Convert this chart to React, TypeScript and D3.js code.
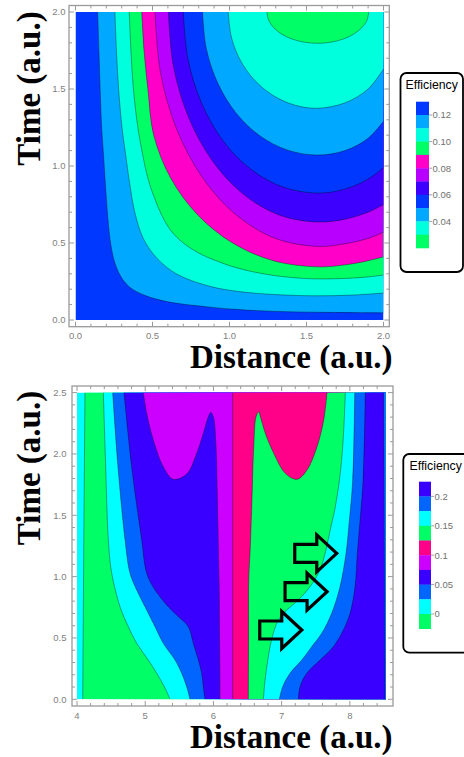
import React from "react";
import * as d3 from "d3";

type Pt = [number, number];

// ---------------- TOP CHART DATA ----------------
const topXTicks = [0, 0.5, 1, 1.5, 2];
const topYTicks = [0, 0.5, 1, 1.5, 2];
const topTickLabels = ["0.0", "0.5", "1.0", "1.5", "2.0"];
// band colours from the bottom-left region outward (0.12-0.13 ... 0.02-0.03)
const topBandColors = ["#0038FF", "#00A8FF", "#00FFDD", "#00FF66", "#FF00C8", "#B800FF", "#3D00FF", "#0038FF", "#00A8FF", "#00FFDD", "#00FF66"];
const topLegendLevels = [0.13, 0.12, 0.11, 0.1, 0.09, 0.08, 0.07, 0.06, 0.05, 0.04, 0.03, 0.02];
const topLegendTickValues = [0.12, 0.1, 0.08, 0.06, 0.04];
const topLegendTickLabels = ["0.12", "0.10", "0.08", "0.06", "0.04"];

// contour boundaries (Distance, Time)
const topC012: Pt[] = [[0.144, 2], [0.152, 1.75], [0.16, 1.5], [0.17, 1.25], [0.18, 1.1], [0.193, 0.9], [0.207, 0.7], [0.225, 0.52], [0.25, 0.39], [0.29, 0.29], [0.35, 0.215], [0.45, 0.16], [0.6, 0.118], [0.86, 0.085], [1.04, 0.069], [1.3, 0.056], [1.6, 0.05], [2, 0.046]];
const topC011: Pt[] = [[0.256, 2], [0.266, 1.75], [0.28, 1.5], [0.302, 1.25], [0.322, 1.1], [0.35, 0.9], [0.385, 0.7], [0.44, 0.53], [0.53, 0.4], [0.66, 0.297], [0.86, 0.222], [1.05, 0.186], [1.3, 0.165], [1.571, 0.157], [1.8, 0.162], [2, 0.175]];
const topC010: Pt[] = [[0.349, 2], [0.36, 1.75], [0.376, 1.5], [0.405, 1.25], [0.435, 1.08], [0.47, 0.92], [0.51, 0.8], [0.56, 0.68], [0.62, 0.58], [0.7, 0.5], [0.8, 0.435], [0.9, 0.39], [1.05, 0.338], [1.25, 0.295], [1.45, 0.272], [1.571, 0.267], [1.75, 0.27], [1.9, 0.28], [2, 0.292]];
const topC009: Pt[] = [[0.43, 2], [0.445, 1.75], [0.47, 1.5], [0.5075, 1.201], [0.6175, 0.9225], [0.7925, 0.6833], [1.0205, 0.4997], [1.286, 0.3843], [1.571, 0.345], [1.75, 0.358], [1.9, 0.385], [2, 0.41]];
const topC008: Pt[] = [[0.516, 2], [0.552, 1.606], [0.657, 1.239], [0.825, 0.924], [1.044, 0.682], [1.298, 0.53], [1.571, 0.478], [1.75, 0.495], [1.9, 0.53], [2, 0.57]];
const topC007: Pt[] = [[0.603, 2], [0.636, 1.647], [0.733, 1.318], [0.887, 1.036], [1.087, 0.819], [1.3205, 0.6825], [1.571, 0.636], [1.75, 0.655], [1.9, 0.7], [2, 0.75]];
const topC006: Pt[] = [[0.7, 2], [0.73, 1.696], [0.817, 1.412], [0.955, 1.168], [1.1355, 0.982], [1.346, 0.864], [1.571, 0.824], [1.75, 0.85], [1.9, 0.915], [2, 0.99]];
const topC005: Pt[] = [[0.825, 2], [0.85, 1.76], [0.925, 1.5355], [1.0435, 1.343], [1.198, 1.1955], [1.378, 1.103], [1.571, 1.071], [1.75, 1.1], [1.9, 1.18], [2, 1.29]];
const topC004: Pt[] = [[0.992, 2], [1.012, 1.838], [1.07, 1.6875], [1.162, 1.558], [1.2815, 1.459], [1.421, 1.396], [1.571, 1.375], [1.75, 1.41], [1.9, 1.5], [2, 1.63]];
const topC003: Pt[] = [[1.243, 2], [1.254, 1.9475], [1.287, 1.8985], [1.339, 1.8565], [1.407, 1.824], [1.486, 1.804], [1.571, 1.797], [1.657, 1.804], [1.7375, 1.824], [1.806, 1.8565], [1.859, 1.8985], [1.893, 1.9475], [1.904, 2]];
const topContours = [topC012, topC011, topC010, topC009, topC008, topC007, topC006, topC005, topC004, topC003];

// ---------------- BOTTOM CHART DATA ----------------
const botXTicks = [4, 5, 6, 7, 8];
const botXTickLabels = ["4", "5", "6", "7", "8"];
const botYTicks = [0, 0.5, 1, 1.5, 2, 2.5];
const botYTickLabels = ["0.0", "0.5", "1.0", "1.5", "2.0", "2.5"];
// band colours from left to right
const botBandColors = ["#00FFFF", "#00FF66", "#00FFFF", "#0066FF", "#3A00FF", "#CC00FF", "#FF0088", "#00FF66", "#00FFFF", "#0066FF", "#3A00FF", "#0080FF"];
const botLegendLevels = [0.225, 0.2, 0.175, 0.15, 0.125, 0.1, 0.075, 0.05, 0.025, 0, -0.025];
const botLegendColors = ["#3A00FF", "#0066FF", "#00FFFF", "#00FF66", "#FF0088", "#CC00FF", "#3A00FF", "#0066FF", "#00FFFF", "#00FF66"];
const botLegendTickValues = [0.2, 0.15, 0.1, 0.05, 0];
const botLegendTickLabels = ["0.2", "0.15", "0.1", "0.05", "0"];

// boundaries from top edge (Time 2.5) to bottom edge (Time 0)
const botL1: Pt[] = [[4.117, 2.5], [4.1, 1.3], [4.084, 0]];
const botL2: Pt[] = [[4.386, 2.5], [4.42, 1.9], [4.459, 1.3], [4.508, 1.03], [4.63, 0.755], [4.752, 0.592], [4.875, 0.456], [5.045, 0.32], [5.168, 0.212], [5.28, 0.103], [5.364, 0]];
const botL3: Pt[] = [[4.523, 2.5], [4.6, 1.9], [4.704, 1.3], [4.777, 1.027], [4.875, 0.891], [4.997, 0.755], [5.144, 0.592], [5.265, 0.456], [5.437, 0.32], [5.535, 0.212], [5.608, 0.103], [5.657, 0]];
const botL4: Pt[] = [[4.689, 2.5], [4.8, 1.9], [4.948, 1.3], [5.022, 1.027], [5.144, 0.891], [5.339, 0.755], [5.485, 0.674], [5.632, 0.592], [5.705, 0.456], [5.779, 0.32], [5.828, 0.212], [5.852, 0.103], [5.877, 0]];
const botL5: Pt[] = [[4.972, 2.5], [5.022, 2.331], [5.119, 2.113], [5.265, 1.896], [5.412, 1.793], [5.608, 1.836], [5.755, 2.005], [5.852, 2.168], [5.925, 2.303], [5.96, 2.339], [5.999, 2.303], [6.038, 2.059], [6.057, 1.651], [6.072, 1.244], [6.082, 0.972], [6.09, 0.5], [6.097, 0]];
const botMid: Pt[] = [[6.283, 2.5], [6.283, 0]];
const botR5: Pt[] = [[7.666, 2.5], [7.617, 2.276], [7.519, 2.059], [7.372, 1.869], [7.226, 1.793], [7.054, 1.842], [6.884, 2.005], [6.761, 2.168], [6.688, 2.303], [6.664, 2.344], [6.625, 2.303], [6.591, 2.059], [6.566, 1.651], [6.541, 1.244], [6.518, 0.972], [6.515, 0.5], [6.512, 0]];
const botR4: Pt[] = [[7.934, 2.5], [7.9, 2.1], [7.85, 1.8], [7.78, 1.55], [7.72, 1.4], [7.67, 1.27], [7.612, 1.135], [7.538, 1.027], [7.416, 0.918], [7.245, 0.809], [7.075, 0.728], [6.952, 0.646], [6.878, 0.538], [6.83, 0.429], [6.79, 0.293], [6.757, 0.157], [6.732, 0]];
const botR3: Pt[] = [[8.072, 2.5], [8.042, 1.787], [7.993, 1.461], [7.944, 1.19], [7.856, 0.918], [7.734, 0.701], [7.588, 0.538], [7.441, 0.429], [7.295, 0.32], [7.123, 0.212], [7.016, 0.103], [6.966, 0]];
const botR2: Pt[] = [[8.227, 2.5], [8.194, 1.787], [8.15, 1.461], [8.11, 1.19], [8.076, 0.918], [8.003, 0.701], [7.905, 0.565], [7.758, 0.429], [7.563, 0.32], [7.368, 0.212], [7.27, 0.103], [7.245, 0]];
const botR1: Pt[] = [[8.497, 2.5], [8.506, 1.25], [8.516, 0]];
const botContours = [botL1, botL2, botL3, botL4, botL5, botMid, botR5, botR4, botR3, botR2, botR1];

// arrow annotations (tip positions, Distance/Time)
const arrowTips: Pt[] = [[7.808, 1.19], [7.666, 0.877], [7.295, 0.565]];

const serif = "'Liberation Serif', 'Times New Roman', serif";
const sans = "'Liberation Sans', Arial, sans-serif";

function Frame({ x, y, w, h, xTicks, yTicks, xs, ys, majorX, majorY }: any) {
  const lines: any[] = [];
  xTicks.forEach((v: number, i: number) => {
    const L = majorX(v) ? 5 : 3;
    const px = xs(v);
    lines.push(<line key={"xb" + i} x1={px} x2={px} y1={y + h} y2={y + h - L} />);
    lines.push(<line key={"xt" + i} x1={px} x2={px} y1={y} y2={y + L} />);
  });
  yTicks.forEach((v: number, i: number) => {
    const L = majorY(v) ? 5 : 3;
    const py = ys(v);
    lines.push(<line key={"yl" + i} x1={x} x2={x + L} y1={py} y2={py} />);
    lines.push(<line key={"yr" + i} x1={x + w} x2={x + w - L} y1={py} y2={py} />);
  });
  return (
    <g stroke="#9a9a9a" strokeWidth={1}>
      <rect x={x} y={y} width={w} height={h} fill="none" strokeWidth={1.3} />
      {lines}
    </g>
  );
}

export default function App() {
  // top scales
  const xT = d3.scaleLinear().domain([0, 2]).range([75.5, 383.5]);
  const yT = d3.scaleLinear().domain([0, 2]).range([320, 12]);
  // bottom scales
  const xB = d3.scaleLinear().domain([4, 8.53]).range([77, 386]);
  const yB = d3.scaleLinear().domain([0, 2.5]).range([699.3, 392.6]);

  const lineT = d3.line<Pt>().x(d => xT(d[0])).y(d => yT(d[1])).curve(d3.curveCatmullRom.alpha(0.5));
  const lineB = d3.line<Pt>().x(d => xB(d[0])).y(d => yB(d[1])).curve(d3.curveCatmullRom.alpha(0.5));

  const legT = d3.scaleLinear().domain([0.13, 0.02]).range([101.7, 248]);
  const legB = d3.scaleLinear().domain([0.225, -0.025]).range([481.7, 628.7]);

  const topMinor = d3.range(0, 2.0001, 0.1);
  const botXMinor = d3.range(4, 8.53, 0.2);
  const botYMinor = d3.range(0, 2.5001, 0.1);
  const isMult = (v: number, m: number, o = 0) => Math.abs(((v - o) / m) - Math.round((v - o) / m)) < 1e-6;

  return (
    <svg width={464} height={757} style={{ position: "absolute", left: 0, top: 0, background: "#fff" }}>
      <defs>
        <clipPath id="clipTop"><rect x={xT(0)} y={yT(2)} width={xT(2) - xT(0)} height={yT(0) - yT(2)} /></clipPath>
        <clipPath id="clipBot"><rect x={xB(4)} y={yB(2.5)} width={xB(8.53) - xB(4)} height={yB(0) - yB(2.5)} /></clipPath>
      </defs>
      <rect x={0} y={0} width={464} height={757} fill="#fff" />

      {/* ---------- TOP CHART ---------- */}
      <g clipPath="url(#clipTop)">
        <rect x={xT(0)} y={yT(2)} width={xT(2) - xT(0)} height={yT(0) - yT(2)} fill={topBandColors[0]} />
        {topContours.map((c, i) => (
          <path key={"tf" + i} d={(lineT(c) as string) + `L${xT(2) + 2},${yT(2) - 2}Z`} fill={topBandColors[i + 1]} />
        ))}
        {topContours.map((c, i) => (
          <path key={"tl" + i} d={lineT(c) as string} fill="none" stroke="#000" strokeOpacity={0.45} strokeWidth={0.8} />
        ))}
      </g>
      <Frame x={69} y={5.5} w={320.3} h={321.2} xTicks={topMinor} yTicks={topMinor} xs={xT} ys={yT}
        majorX={(v: number) => isMult(v, 0.5)} majorY={(v: number) => isMult(v, 0.5)} />
      <g fontFamily={sans} fontSize={9.5} fill="#808080">
        {topXTicks.map((v, i) => (
          <text key={"txl" + i} x={xT(v)} y={338.5} textAnchor="middle">{topTickLabels[i]}</text>
        ))}
        {topYTicks.map((v, i) => (
          <text key={"tyl" + i} x={65.5} y={yT(v) + 3.3} textAnchor="end">{topTickLabels[i]}</text>
        ))}
      </g>
      <text x={392.5} y={368} textAnchor="end" fontFamily={serif} fontWeight="bold" fontSize={33}>Distance (a.u.)</text>
      <text transform={`translate(40,88.5) rotate(-90)`} textAnchor="middle" fontFamily={serif} fontWeight="bold" fontSize={33}>Time (a.u.)</text>

      {/* top legend */}
      <rect x={400.5} y={73} width={62.5} height={199} rx={6} fill="#fff" stroke="#000" strokeWidth={1.8} />
      <text x={405.5} y={89} fontFamily={sans} fontSize={12.3} fill="#000">Efficiency</text>
      {topBandColors.map((col, i) => (
        <rect key={"tlc" + i} x={416} y={legT(topLegendLevels[i])} width={13}
          height={legT(topLegendLevels[i + 1]) - legT(topLegendLevels[i]) + 0.3} fill={col} />
      ))}
      {topLegendTickValues.map((v, i) => (
        <g key={"tlt" + i}>
          <line x1={429} x2={432} y1={legT(v)} y2={legT(v)} stroke="#888" strokeWidth={0.8} />
          <text x={432.5} y={legT(v) + 3.3} fontFamily={sans} fontSize={9.5} fill="#707070">{topLegendTickLabels[i]}</text>
        </g>
      ))}

      {/* ---------- BOTTOM CHART ---------- */}
      <g clipPath="url(#clipBot)">
        <rect x={xB(4)} y={yB(2.5)} width={xB(8.53) - xB(4)} height={yB(0) - yB(2.5)} fill={botBandColors[0]} />
        {botContours.map((c, i) => (
          <path key={"bf" + i} d={(lineB(c) as string) + `L${xB(8.53) + 2},${yB(0) + 2}L${xB(8.53) + 2},${yB(2.5) - 2}Z`} fill={botBandColors[i + 1]} />
        ))}
        {botContours.map((c, i) => (
          <path key={"bl" + i} d={lineB(c) as string} fill="none" stroke="#000" strokeOpacity={0.45} strokeWidth={0.8} />
        ))}
      </g>
      {arrowTips.map((t, i) => {
        const tx = xB(t[0]);
        const ty = yB(t[1]);
        const pts: Pt[] = [[0, 0], [-20, -18.5], [-20, -9], [-42, -9], [-42, 9], [-20, 9], [-20, 18.5]];
        const d = "M" + pts.map(p => `${tx + p[0]},${ty + p[1]}`).join("L") + "Z";
        return <path key={"ar" + i} d={d} fill="none" stroke="#000" strokeWidth={3.2} strokeLinejoin="miter" />;
      })}
      <Frame x={72} y={386} w={321} h={320} xTicks={botXMinor} yTicks={botYMinor} xs={xB} ys={yB}
        majorX={(v: number) => isMult(v, 1)} majorY={(v: number) => isMult(v, 0.5)} />
      <g fontFamily={sans} fontSize={9.5} fill="#808080">
        {botXTicks.map((v, i) => (
          <text key={"bxl" + i} x={xB(v)} y={718.5} textAnchor="middle">{botXTickLabels[i]}</text>
        ))}
        {botYTicks.map((v, i) => (
          <text key={"byl" + i} x={66.5} y={yB(v) + 3.3} textAnchor="end">{botYTickLabels[i]}</text>
        ))}
      </g>
      <text x={392.5} y={748} textAnchor="end" fontFamily={serif} fontWeight="bold" fontSize={33}>Distance (a.u.)</text>
      <text transform={`translate(40,468) rotate(-90)`} textAnchor="middle" fontFamily={serif} fontWeight="bold" fontSize={33}>Time (a.u.)</text>

      {/* bottom legend */}
      <rect x={403.3} y={454} width={70} height={198.7} rx={6} fill="#fff" stroke="#000" strokeWidth={1.8} />
      <text x={409.5} y={469.5} fontFamily={sans} fontSize={12.3} fill="#000">Efficiency</text>
      {botLegendColors.map((col, i) => (
        <rect key={"blc" + i} x={419} y={legB(botLegendLevels[i])} width={12}
          height={legB(botLegendLevels[i + 1]) - legB(botLegendLevels[i]) + 0.3} fill={col} />
      ))}
      {botLegendTickValues.map((v, i) => (
        <g key={"blt" + i}>
          <line x1={431} x2={434} y1={legB(v)} y2={legB(v)} stroke="#888" strokeWidth={0.8} />
          <text x={434.5} y={legB(v) + 3.3} fontFamily={sans} fontSize={9.5} fill="#707070">{botLegendTickLabels[i]}</text>
        </g>
      ))}
    </svg>
  );
}
